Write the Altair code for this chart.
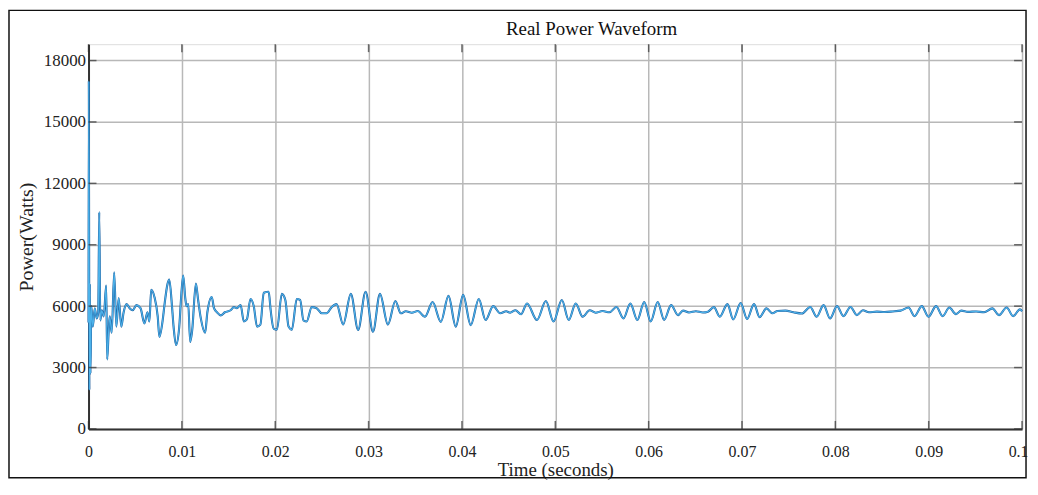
import altair as alt
import pandas as pd

# ---- data ----
time_s = [
    0.00000, 0.00003, 0.00009, 0.00014, 0.00021, 0.00030, 0.00046, 0.00067, 0.00088, 0.00104,
    0.00115, 0.00126, 0.00142, 0.00163, 0.00189, 0.00200, 0.00216, 0.00227, 0.00248, 0.00275,
    0.00298, 0.00323, 0.00351, 0.00376, 0.00408, 0.00440, 0.00472, 0.00514, 0.00557, 0.00599,
    0.00631, 0.00652, 0.00671, 0.00706, 0.00741, 0.00759, 0.00794, 0.00812, 0.00847, 0.00865,
    0.00894, 0.00911, 0.00937, 0.00972, 0.00990, 0.01014, 0.01036, 0.01049, 0.01068, 0.01089,
    0.01110, 0.01150, 0.01174, 0.01203, 0.01249, 0.01273, 0.01320, 0.01344, 0.01376, 0.01416,
    0.01461, 0.01522, 0.01557, 0.01589, 0.01629, 0.01664, 0.01696, 0.01735, 0.01770, 0.01805,
    0.01841, 0.01877, 0.01930, 0.01951, 0.01983, 0.02018, 0.02071, 0.02108, 0.02143, 0.02178,
    0.02231, 0.02267, 0.02302, 0.02337, 0.02391, 0.02444, 0.02497, 0.02550, 0.02604,
    0.02657, 0.02728, 0.02810, 0.02888, 0.02968, 0.03047, 0.03122, 0.03207, 0.03287, 0.03345,
    0.03399, 0.03463, 0.03526, 0.03604, 0.03686, 0.03774, 0.03856, 0.03934, 0.04013, 0.04094,
    0.04181, 0.04253, 0.04335, 0.04410, 0.04474, 0.04516, 0.04573, 0.04633, 0.04697, 0.04804,
    0.04899, 0.04981, 0.05070, 0.05144, 0.05219, 0.05293, 0.05368, 0.05432, 0.05506, 0.05581,
    0.05655, 0.05730, 0.05804, 0.05879, 0.05953, 0.06022, 0.06097, 0.06166, 0.06241, 0.06315,
    0.06368, 0.06432, 0.06506, 0.06581, 0.06635, 0.06699, 0.06762, 0.06844, 0.06906, 0.06986,
    0.07055, 0.07129, 0.07188, 0.07262, 0.07326, 0.07380, 0.07465, 0.07550, 0.07642, 0.07731,
    0.07800, 0.07874, 0.07943, 0.08018, 0.08087, 0.08162, 0.08231, 0.08295, 0.08359, 0.08444,
    0.08529, 0.08614, 0.08699, 0.08784, 0.08848, 0.08926, 0.08997, 0.09079, 0.09149, 0.09221,
    0.09292, 0.09349, 0.09423, 0.09508, 0.09593, 0.09682, 0.09753, 0.09835, 0.09905, 0.09977,
    0.10000,
]
power_w = [
    5200, 17000, 1900, 7100, 2700, 6000, 5000, 5900, 5400, 5700,
    10600, 5300, 5800, 5500, 7000, 3400, 4800, 5500, 4700, 7650,
    5000, 6400, 5000, 5700, 6100, 5900, 5800, 6050, 5900, 5150,
    5700, 5250, 6800, 6450, 5500, 4500, 5300, 6000, 7100, 7300,
    6000, 5000, 4100, 5000, 6300, 7500, 6400, 6000, 6100, 4250,
    4800, 7100, 6300, 5400, 4700, 5700, 6450, 5900, 5700, 5550,
    5700, 5800, 5950, 5900, 6050, 5250, 5350, 6350, 6000, 5000,
    5100, 6650, 6700, 5800, 4900, 4850, 6600, 6300, 5000, 4850,
    6350, 6300, 5300, 5250, 5950, 5900, 5650, 5650, 5950,
    6100, 5100, 6600, 4830, 6700, 4750, 6600, 5100, 6250, 5650,
    5750, 5680, 5760, 5480, 6200, 5230, 6500, 5000, 6550, 5070,
    6350, 5320, 6000, 5650, 5750, 5680, 5800, 5600, 6130, 5320,
    6250, 5250, 6300, 5320, 6130, 5480, 5800, 5680, 5760, 5700,
    5960, 5400, 6130, 5320, 6200, 5250, 6200, 5330, 6050, 5560,
    5780, 5690, 5750, 5690, 5730, 5950, 5480, 6100, 5350, 6150,
    5370, 6100, 5460, 5890, 5650, 5760, 5780, 5700, 5640, 5960,
    5480, 6050, 5400, 6000, 5510, 5960, 5560, 5800, 5700, 5730,
    5710, 5740, 5780, 5930, 5510, 6000, 5480, 6000, 5510, 5930,
    5610, 5780, 5720, 5740, 5700, 5890, 5560, 5930, 5510, 5840,
    5750,
]
x_ticks = [0, 0.01, 0.02, 0.03, 0.04, 0.05, 0.06, 0.07, 0.08, 0.09, 0.1]
y_ticks = [0, 3000, 6000, 9000, 12000, 15000, 18000]

chart_title = "Real Power Waveform"
x_title = "Time (seconds)"
y_title = "Power(Watts)"

# ---- layout ----
W, H = 939, 387
FONT = "Liberation Serif"

df = pd.DataFrame({"t": time_s, "p": power_w})
xt_df = pd.DataFrame({"t": x_ticks})
yt_df = pd.DataFrame({"p": y_ticks})

x_scale = alt.Scale(domain=[0, 0.1], nice=False, zero=False)
y_scale = alt.Scale(domain=[0, 18800], nice=False, zero=False)

x_enc = alt.X(
    "t:Q", scale=x_scale, title=x_title,
    axis=alt.Axis(values=x_ticks, format="~g", grid=True, gridColor="#b8b8b8", gridWidth=1.5,
                  domainColor="#333333", domainWidth=2, ticks=False, tickSize=0,
                  labelPadding=15, labelFont=FONT, labelFontSize=16, labelColor="#222222",
                  labelFlush=False, labelOverlap=False,
                  labelOffset=alt.ExprRef(expr="datum.value >= 0.099 ? -4 : 0"),
                  titleFont=FONT, titleFontSize=19, titleFontWeight="normal", titleColor="#222222",
                  titleY=41, titleBaseline="middle"),
)
y_enc = alt.Y(
    "p:Q", scale=y_scale, title=y_title,
    axis=alt.Axis(values=y_ticks, format="d", grid=True, gridColor="#b8b8b8", gridWidth=1.5,
                  domainColor="#333333", domainWidth=2, ticks=False, tickSize=0,
                  labelPadding=3, labelFont=FONT, labelFontSize=17, labelColor="#222222",
                  labelFlush=False, labelOverlap=False,
                  titleFont=FONT, titleFontSize=20, titleFontWeight="normal", titleColor="#222222",
                  titleX=-62, titleBaseline="middle"),
)

line_dark = alt.Chart(df).mark_line(color="#1c5c9c", strokeWidth=2.1, interpolate="monotone").encode(
    x=x_enc, y=y_enc)
line_light = alt.Chart(df).mark_line(color="#4cb2ea", strokeWidth=1.2, interpolate="monotone").encode(
    x=x_enc, y=y_enc)

tick_style = dict(color="#333333", size=8, thickness=1.5)
ticks_bottom = alt.Chart(xt_df).mark_tick(orient="vertical", **tick_style).encode(x=x_enc, y=alt.value(H - 4))
ticks_top = alt.Chart(xt_df).mark_tick(orient="vertical", **tick_style).encode(x=x_enc, y=alt.value(4))
ticks_left = alt.Chart(yt_df).mark_tick(orient="horizontal", **tick_style).encode(y=y_enc, x=alt.value(4))
ticks_right = alt.Chart(yt_df).mark_tick(orient="horizontal", **tick_style).encode(y=y_enc, x=alt.value(W - 4))

title_text = alt.Chart(pd.DataFrame({"txt": [chart_title]})).mark_text(
    font=FONT, fontSize=19, color="#111111", align="center", baseline="alphabetic").encode(
    text="txt:N", x=alt.value(506), y=alt.value(-9))

frame = alt.Chart(pd.DataFrame({"k": [0]})).mark_rect(
    filled=False, stroke="#111111", strokeWidth=1.5).encode(
    x=alt.value(-80), x2=alt.value(943), y=alt.value(-34), y2=alt.value(436))

chart = alt.layer(
    line_dark, line_light, ticks_bottom, ticks_top, ticks_left, ticks_right, title_text, frame
).properties(
    width=W, height=H,
    autosize="none",
    padding={"left": 81, "top": 35, "right": 8, "bottom": 52},
).configure_view(stroke="#222222", strokeWidth=1.2).configure(background="white")

chart.save("out.html", embed_options={"renderer": "svg", "actions": False})
